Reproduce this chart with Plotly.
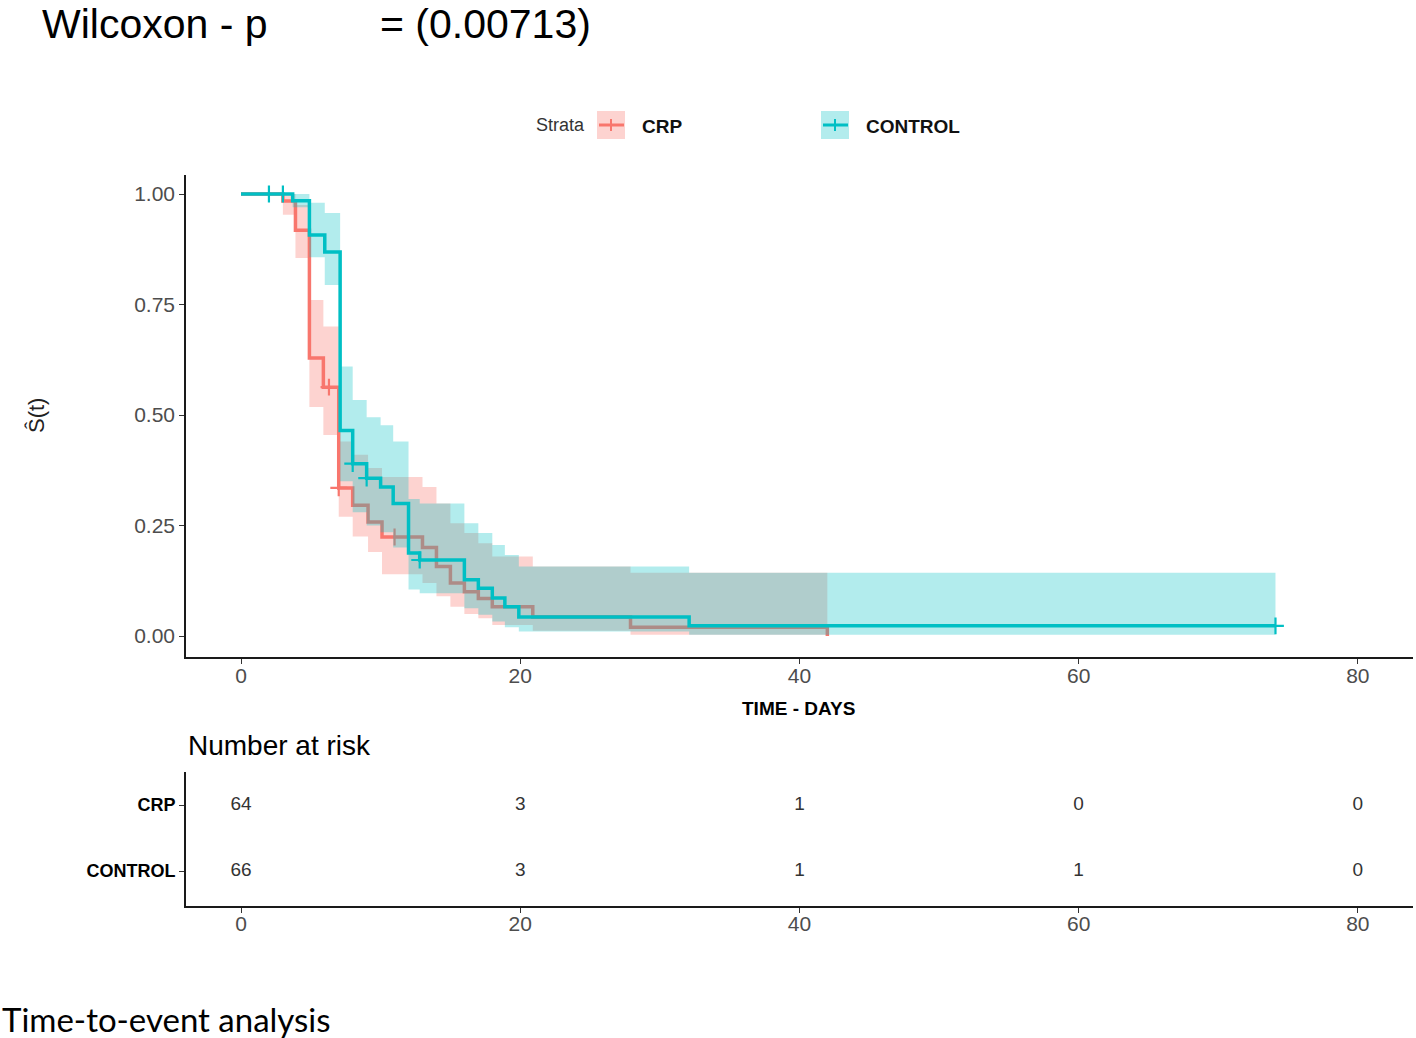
import plotly.graph_objects as go

# ---------------- data ----------------
crp_time  = [0, 3.0, 3.9, 4.9, 5.9, 7.0, 8.0, 9.1, 10.1, 13.0, 14.0, 15.0, 16.0, 17.0, 18.0, 20.9, 27.9, 42.0]
crp_surv  = [1.0, 0.984, 0.918, 0.629, 0.563, 0.335, 0.296, 0.258, 0.224, 0.200, 0.157, 0.120, 0.100, 0.085, 0.066, 0.043, 0.020, 0.0]
crp_upper = [1.0, 1.0, 0.975, 0.76, 0.70, 0.44, 0.41, 0.38, 0.36, 0.337, 0.30, 0.255, 0.233, 0.21, 0.18, 0.157, 0.143, 0.143]
crp_lower = [1.0, 0.953, 0.855, 0.518, 0.455, 0.27, 0.225, 0.19, 0.14, 0.12, 0.09, 0.066, 0.05, 0.04, 0.025, 0.012, 0.003, 0.003]
crp_cens_t = [6.3, 7.0, 11.0]
crp_cens_s = [0.563, 0.335, 0.224]

ctl_time  = [0, 3.7, 4.9, 6.0, 7.1, 8.0, 9.0, 10.0, 10.9, 12.0, 12.8, 16.0, 17.0, 18.0, 18.9, 19.9, 32.1, 74.1]
ctl_surv  = [1.0, 0.985, 0.907, 0.869, 0.465, 0.39, 0.357, 0.337, 0.30, 0.188, 0.172, 0.127, 0.108, 0.086, 0.066, 0.043, 0.023, 0.023]
ctl_upper = [1.0, 1.0, 0.98, 0.957, 0.61, 0.534, 0.495, 0.477, 0.44, 0.31, 0.30, 0.255, 0.233, 0.206, 0.183, 0.157, 0.143, 0.143]
ctl_lower = [1.0, 0.97, 0.857, 0.794, 0.35, 0.28, 0.25, 0.235, 0.20, 0.105, 0.097, 0.063, 0.048, 0.033, 0.02, 0.01, 0.003, 0.003]
ctl_cens_t = [2.0, 3.0, 8.0, 9.0, 12.8, 74.1]
ctl_cens_s = [1.0, 1.0, 0.39, 0.357, 0.172, 0.023]

risk_times = [0, 20, 40, 60, 80]
risk_crp = [64, 3, 1, 0, 0]
risk_ctl = [66, 3, 1, 1, 0]

x_ticks = [0, 20, 40, 60, 80]
y_ticks = [0, 0.25, 0.5, 0.75, 1.0]
y_ticklabels = ["0.00", "0.25", "0.50", "0.75", "1.00"]

RED = "#F8766D"
TEAL = "#00BFC4"
RED_FILL = "rgba(248,118,109,0.32)"
TEAL_FILL = "rgba(0,191,196,0.30)"

W, H = 1416, 1038
def px(x):
    return x / W
def py(y):
    return 1 - y / H

fig = go.Figure()

def add_group(t, s, lo, hi, ct, cs, color, fill, name):
    fig.add_trace(go.Scatter(x=t, y=lo, mode="lines", line=dict(width=0, shape="hv", color=color),
                             showlegend=False, hoverinfo="skip", xaxis="x", yaxis="y"))
    fig.add_trace(go.Scatter(x=t, y=hi, mode="lines", line=dict(width=0, shape="hv", color=color),
                             fill="tonexty", fillcolor=fill, showlegend=False, hoverinfo="skip",
                             xaxis="x", yaxis="y"))
    fig.add_trace(go.Scatter(x=t, y=s, mode="lines", line=dict(width=3.5, shape="hv", color=color),
                             name=name, showlegend=False, xaxis="x", yaxis="y"))
    fig.add_trace(go.Scatter(x=ct, y=cs, mode="markers",
                             marker=dict(symbol="cross-thin", size=12, line=dict(width=2.2, color=color)),
                             showlegend=False, hoverinfo="skip", xaxis="x", yaxis="y"))

add_group(crp_time, crp_surv, crp_lower, crp_upper, crp_cens_t, crp_cens_s, RED, RED_FILL, "CRP")
add_group(ctl_time, ctl_surv, ctl_lower, ctl_upper, ctl_cens_t, ctl_cens_s, TEAL, TEAL_FILL, "CONTROL")

# risk table
fig.add_trace(go.Scatter(x=risk_times, y=[2] * len(risk_times), mode="text",
                         text=[str(v) for v in risk_crp], textfont=dict(size=19, color="#333333", family="Liberation Sans"),
                         showlegend=False, hoverinfo="skip", xaxis="x2", yaxis="y2"))
fig.add_trace(go.Scatter(x=risk_times, y=[1] * len(risk_times), mode="text",
                         text=[str(v) for v in risk_ctl], textfont=dict(size=19, color="#333333", family="Liberation Sans"),
                         showlegend=False, hoverinfo="skip", xaxis="x2", yaxis="y2"))

xr = [-3.94, 83.95]
axis_common = dict(showgrid=False, zeroline=False, showline=True, linecolor="#1a1a1a", linewidth=1.6,
                   ticks="outside", ticklen=5, tickwidth=1.2, tickcolor="#333333",
                   tickfont=dict(size=21, color="#4D4D4D", family="Liberation Sans"))

fig.update_layout(
    width=W, height=H,
    margin=dict(l=0, r=0, t=0, b=0),
    paper_bgcolor="white", plot_bgcolor="white",
    font=dict(family="Liberation Sans", color="#000000"),
    xaxis=dict(domain=[px(186), px(1413)], range=xr, tickvals=x_ticks, anchor="y",
               ticklabelstandoff=-6, **axis_common),
    yaxis=dict(domain=[py(657), py(175)], range=[-0.0475, 1.043], tickvals=y_ticks, ticktext=y_ticklabels,
               anchor="x", **axis_common),
    xaxis2=dict(domain=[px(186), px(1413)], range=xr, tickvals=x_ticks, anchor="y2",
                ticklabelstandoff=-7, **axis_common),
    yaxis2=dict(domain=[py(906), py(772)], range=[0.47, 2.5], tickvals=[2, 1],
                ticktext=["<b>CRP</b>", "<b>CONTROL</b>"], anchor="x2",
                **{k: v for k, v in axis_common.items() if k != "tickfont"},
                tickfont=dict(size=18, color="#000000", family="Liberation Sans")),
)

annotations = [
    dict(text="Wilcoxon - p", x=px(40), y=py(24), xanchor="left", yanchor="middle",
         font=dict(size=41, family="Liberation Sans", color="#000000")),
    dict(text="= (0.00713)", x=px(378), y=py(24), xanchor="left", yanchor="middle",
         font=dict(size=41, family="Liberation Sans", color="#000000")),
    dict(text="Strata", x=px(587), y=py(125), xanchor="right", yanchor="middle",
         font=dict(size=18, color="#333333")),
    dict(text="<b>CRP</b>", x=px(640), y=py(126), xanchor="left", yanchor="middle",
         font=dict(size=19, color="#111111")),
    dict(text="<b>CONTROL</b>", x=px(864), y=py(126), xanchor="left", yanchor="middle",
         font=dict(size=19, color="#111111")),
    dict(text="<b>TIME - DAYS</b>", x=px(798), y=py(708), xanchor="center", yanchor="middle",
         font=dict(size=19, color="#000000")),
    dict(text="Ŝ(t)", x=px(36), y=py(416), xanchor="center", yanchor="middle", textangle=-90,
         font=dict(size=22, color="#222222")),
    dict(text="Number at risk", x=px(186), y=py(745), xanchor="left", yanchor="middle",
         font=dict(size=28, color="#000000")),
    dict(text="Time-to-event analysis", x=px(0), y=py(1019), xanchor="left", yanchor="middle",
         font=dict(size=33, family="Lato", color="#000000")),
]
for a in annotations:
    a.update(xref="paper", yref="paper", showarrow=False)
fig.update_layout(annotations=annotations)

shapes = [
    dict(type="rect", x0=px(597), x1=px(625), y0=py(139), y1=py(111), fillcolor=RED_FILL, line=dict(width=0)),
    dict(type="line", x0=px(599), x1=px(624), y0=py(125), y1=py(125), line=dict(color=RED, width=3)),
    dict(type="line", x0=px(611), x1=px(611), y0=py(119), y1=py(131), line=dict(color=RED, width=2)),
    dict(type="rect", x0=px(821), x1=px(849), y0=py(139), y1=py(111), fillcolor=TEAL_FILL, line=dict(width=0)),
    dict(type="line", x0=px(823), x1=px(848), y0=py(125), y1=py(125), line=dict(color=TEAL, width=3)),
    dict(type="line", x0=px(835), x1=px(835), y0=py(119), y1=py(131), line=dict(color=TEAL, width=2)),
]
for s in shapes:
    s.update(xref="paper", yref="paper")
fig.update_layout(shapes=shapes)

fig.write_html("out.html",
               config={"displayModeBar": False},
               post_script="document.body.style.margin='0px';document.body.style.overflow='hidden';")
